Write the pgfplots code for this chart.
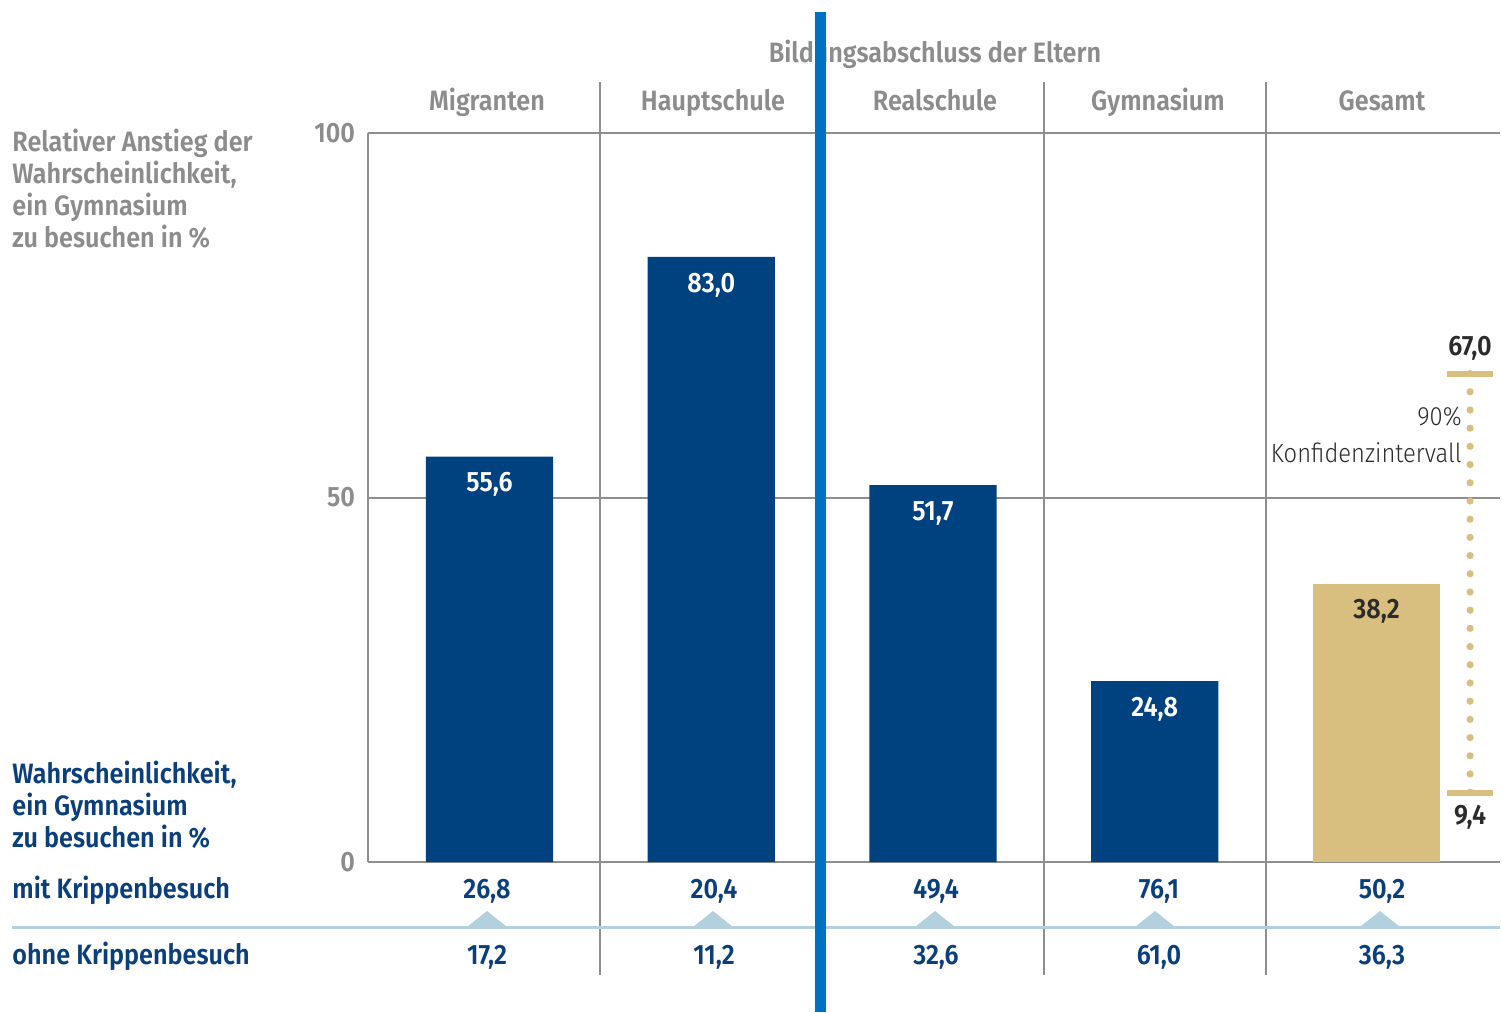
\documentclass[border=0pt]{standalone}
\usepackage{pgfplots}
\pgfplotsset{compat=1.18}
\usepackage{fontspec}
\setmainfont{Fira Sans}[FakeStretch=0.9, BoldFont={Fira Sans SemiBold}]
\newfontfamily\lightfont{Fira Sans Light}[FakeStretch=0.9]
\definecolor{barblue}{HTML}{00427F}
\definecolor{gold}{HTML}{D8BF80}
\definecolor{txtgray}{HTML}{8C8C8C}
\definecolor{rulegray}{HTML}{8E8E8E}
\definecolor{labelblue}{HTML}{0B3F7C}
\definecolor{paleblue}{HTML}{B2D0DD}
\definecolor{marker}{HTML}{0071C1}
\definecolor{darktxt}{HTML}{2B2B2B}
\newcommand{\lbl}{\bfseries\fontsize{14}{17}\selectfont}

\begin{document}
\begin{tikzpicture}
\begin{scope}[x=0.5pt,y=-0.5pt]
  \fill[white] (0,0) rectangle (1502,1012);
  % column separators
  \foreach \xx in {600,822,1044,1266} \draw[rulegray, line width=1pt] (\xx,82) -- (\xx,975);
  % divider between the two table rows
  \draw[paleblue, line width=1.5pt] (12,927) -- (1500,927);
  \foreach \xx in {487,713,935,1155,1380}
    \fill[paleblue] (\xx-20,927) -- (\xx,911) -- (\xx+20,927) -- cycle;
\end{scope}

\begin{axis}[
  at={(184pt,-431pt)}, anchor=south west,
  scale only axis, width=566pt, height=364.5pt,
  xmin=-0.548, xmax=4.557, ymin=0, ymax=100,
  clip=false,
  axis x line=bottom, axis y line=left,
  axis line style={rulegray, line width=1pt, -},
  xtick=\empty, ytick={0,50,100},
  major tick length=0pt,
  ymajorgrids, grid style={rulegray, line width=1pt},
  /pgf/number format/assume math mode=true,
  yticklabel style={text=txtgray, font=\lbl, xshift=-3pt},
  bar numbers/.style={nodes near coords,
    nodes near coords style={anchor=center, yshift=-14pt, font=\lbl,
      /pgf/number format/use comma, /pgf/number format/fixed,
      /pgf/number format/fixed zerofill, /pgf/number format/precision=1}},
]
% likelihood increase per group
\addplot[ybar, bar shift=0pt, bar width=0.573, fill=barblue, draw=none,
  bar numbers, nodes near coords style={text=white}]
  coordinates {(0,55.6) (1,83.0) (2,51.7) (3,24.8)};
% overall value
\addplot[ybar, bar shift=0pt, bar width=0.573, fill=gold, draw=none,
  bar numbers, nodes near coords style={text=darktxt}]
  coordinates {(4,38.2)};
% 90% confidence interval of the overall value
\addplot[gold, line width=3.6pt, line cap=round, dash pattern=on 0pt off 9.1pt]
  coordinates {(4.422,67.0) (4.422,9.4)};
\addplot[gold, line width=3pt] coordinates {(4.318,67.0) (4.526,67.0)};
\addplot[gold, line width=3pt] coordinates {(4.318,9.4) (4.526,9.4)};
\node[font=\lbl, text=darktxt, yshift=12.5pt] at (axis cs:4.422,67.0) {67,0};
\node[font=\lbl, text=darktxt, yshift=-12pt] at (axis cs:4.422,9.4) {9,4};
\end{axis}

\begin{scope}[x=0.5pt,y=-0.5pt]
  \node[anchor=base east, font=\lightfont\fontsize{13.2}{16}\selectfont, text=darktxt, inner sep=0pt] at (1462,425) {90\%};
  \node[anchor=base east, font=\lightfont\fontsize{13.2}{16}\selectfont, text=darktxt, inner sep=0pt] at (1462,462) {Konfidenzintervall};
  % headers
  \node[anchor=base, font=\lbl, text=txtgray, inner sep=0pt] at (935,62) {Bildungsabschluss der Eltern};
  \foreach \xx/\name in {487/Migranten,713/Hauptschule,935/Realschule,1158/Gymnasium,1382/Gesamt}
    \node[anchor=base, font=\lbl, text=txtgray, inner sep=0pt] at (\xx,110) {\name};
  % left labels
  \foreach \yy/\txt in {151/Relativer Anstieg der,183/{Wahrscheinlichkeit,},215/ein Gymnasium,247/zu besuchen in \%}
    \node[anchor=base west, font=\lbl, text=txtgray, inner sep=0pt] at (12,\yy) {\txt};
  \foreach \yy/\txt in {783/{Wahrscheinlichkeit,},815/ein Gymnasium,847/zu besuchen in \%,898/mit Krippenbesuch,964/ohne Krippenbesuch}
    \node[anchor=base west, font=\lbl, text=labelblue, inner sep=0pt] at (12,\yy) {\txt};
  % probabilities with and without daycare
  \foreach \xx/\a/\b in {487/26{,}8/17{,}2,714/20{,}4/11{,}2,936/49{,}4/32{,}6,1159/76{,}1/61{,}0,1382/50{,}2/36{,}3}{
    \node[anchor=base, font=\lbl, text=labelblue, inner sep=0pt] at (\xx,898) {\a};
    \node[anchor=base, font=\lbl, text=labelblue, inner sep=0pt] at (\xx,964) {\b};
  }
  \fill[marker] (815,12) rectangle (826,1012);
  \pgfresetboundingbox
  \path (0,0) rectangle (1502,1012);
\end{scope}
\end{tikzpicture}
\end{document}
